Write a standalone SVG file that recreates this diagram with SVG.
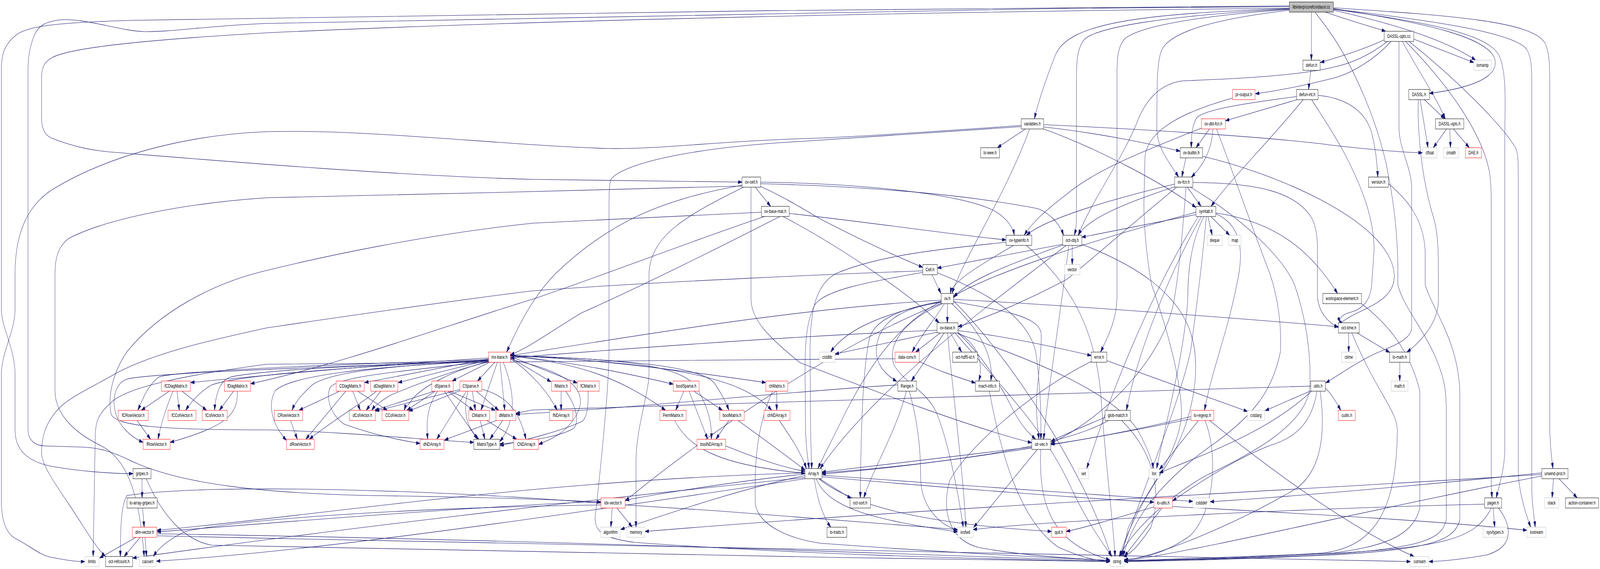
<svg xmlns="http://www.w3.org/2000/svg" width="6048" height="1456" viewBox="0 0 6048 1456" preserveAspectRatio="none">
<style>
svg{width:100vw;height:100vh}
rect{fill:#fff;stroke:#000;stroke-width:1}
.r rect{stroke:#ff0000}
.s rect{stroke:#bfbfbf}
.root rect{fill:#bfbfbf;stroke:#000}
text{font-family:"Liberation Sans",Arial,Helvetica,sans-serif;font-size:13px;text-anchor:middle;fill:#000}
#edges path{fill:none;stroke:#191970;stroke-width:1.1;marker-end:url(#a)}
</style>
<defs>
<marker id="a" viewBox="0 0 15 9" refX="15" refY="4.5" markerWidth="15" markerHeight="9" markerUnits="userSpaceOnUse" orient="auto"><path d="M0,0 L15,4.5 L0,9 z" fill="#191970" stroke="#191970"/></marker>
</defs>
<rect x="0" y="0" width="6048" height="1456" style="fill:#fff;stroke:none"/>
<g id="edges">
<path d="M4957,31 L4957,154"/>
<path d="M5010,31 C5090,50 5170,66 5238,80"/>
<path d="M5040,26 C5260,60 5460,100 5578,154"/>
<path d="M5040,22 C5400,60 5620,95 5650,150 C5670,200 5550,226 5403,239"/>
<path d="M5040,20 C5500,40 5790,55 5840,110 C5858,135 5858,170 5858,220 L5858,1080 C5858,1140 5866,1175 5870,1199"/>
<path d="M5040,23 C5450,55 5720,85 5770,125 C5788,145 5790,170 5790,210 L5790,1240 C5790,1290 5800,1325 5803,1349"/>
<path d="M5040,24 C5380,55 5620,85 5665,140 C5695,180 5690,260 5688,344 L5688,1150 C5688,1200 5665,1245 5656,1274"/>
<path d="M4874,22 C4300,35 4040,60 3990,140 C3955,200 3925,260 3910,304"/>
<path d="M4874,23 C4400,40 4150,70 4100,100 C4074,120 4069,150 4069,200 L4069,560 C4069,580 4065,592 4061,602"/>
<path d="M4874,24 C4500,42 4300,70 4250,100 C4226,120 4222,145 4222,200 L4222,760 C4222,820 4185,865 4160,901"/>
<path d="M4874,26 C4600,48 4420,80 4390,130 C4374,160 4373,200 4373,330 C4373,380 4425,420 4455,453"/>
<path d="M4874,15 C3500,20 1800,36 500,52 C200,58 100,68 60,90 C15,115 5,140 5,180 L5,790 C5,840 57,890 57,960 L57,1100 C57,1150 100,1180 193,1193 C300,1206 420,1212 503,1212"/>
<path d="M4874,17 C3500,22 2000,38 1008,60 C800,65 650,82 546,81 C450,79 320,45 225,51 C170,56 145,66 130,90 C112,120 106,145 106,180 L106,1100 C106,1125 130,1140 167,1141 L309,1144 C400,1146 450,1165 514,1185 C700,1240 1000,1262 1400,1268 C1800,1272 2100,1278 2272,1285"/>
<path d="M4874,21 C3500,30 2000,52 1008,84 C600,100 260,120 193,149 C165,160 157,175 157,200 L157,300 C157,330 170,345 193,353 C280,376 350,386 437,390 C800,410 1500,450 2016,459 C2400,463 2650,465 2805,466"/>
<path d="M4971,31 C5010,65 5030,85 5045,100 C5120,180 5200,300 5240,420 C5270,520 5284,600 5284,700 L5284,728 C5300,780 5380,840 5430,920 C5460,970 5467,1000 5467,1050 L5467,1330 C5450,1380 5380,1400 5040,1418 C4700,1430 4400,1434 4249,1436"/>
<path d="M4955,180 L4946,229"/>
<path d="M5232,102 C5150,128 5060,146 4991,160"/>
<path d="M5258,106 C5200,150 5110,188 5040,200 C4900,224 4800,235 4745,240"/>
<path d="M5245,106 C5160,150 5090,165 5040,172 C4900,195 4650,202 4469,207 C4380,215 4330,260 4302,306 C4250,400 4120,520 4076,602"/>
<path d="M5301,106 C5360,180 5430,250 5463,304"/>
<path d="M5344,100 L5571,160"/>
<path d="M5288,106 L5288,325 C5288,380 5336,430 5336,480 L5336,839 C5336,870 5250,890 5201,904 C5120,930 5060,960 5011,980"/>
<path d="M5313,106 C5450,200 5600,330 5630,440 C5637,470 5637,500 5637,550 L5637,1240 C5637,1255 5639,1265 5640,1274"/>
<path d="M5326,106 C5500,200 5680,320 5730,380 C5739,395 5739,420 5739,450 L5739,1200 C5739,1260 5770,1320 5786,1349"/>
<path d="M5384,255 L5461,304"/>
<path d="M5368,255 L5398,378"/>
<path d="M5361,255 C5358,330 5370,450 5420,560 C5437,600 5437,650 5437,700 L5437,770 C5437,820 5380,870 5318,901"/>
<path d="M5468,330 L5418,378"/>
<path d="M5480,330 L5483,378"/>
<path d="M5494,330 L5554,378"/>
<path d="M3945,319 C4300,330 4800,350 5040,372 C5200,384 5300,390 5377,391"/>
<path d="M3945,325 C4150,340 4350,368 4461,387"/>
<path d="M3945,330 C4150,380 4400,470 4521,531"/>
<path d="M3876,330 L3770,378"/>
<path d="M3892,330 C3800,500 3650,650 3598,751"/>
<path d="M3860,321 C3500,338 3200,352 3024,355 C2700,362 2500,382 2300,380 C1900,372 1400,330 1008,337 C700,345 400,400 193,487 C100,530 57,600 57,700 L57,790 C57,850 5,900 5,960 L5,1280 C5,1340 30,1370 64,1380 C120,1400 150,1420 193,1426 C240,1432 280,1437 321,1437"/>
<path d="M3860,324 C3500,342 3200,356 3024,362 C2600,378 2350,420 2308,460 C2302,480 2302,500 2302,550 L2302,900 C2302,1000 2262,1250 2250,1320 C2245,1365 2290,1378 2400,1388 C3000,1418 3700,1430 4196,1437"/>
<path d="M4903,255 C4800,275 4700,295 4632,309"/>
<path d="M4901,247 C4700,265 4560,280 4525,300 C4505,320 4503,350 4503,378"/>
<path d="M4926,255 C4800,360 4650,460 4578,528"/>
<path d="M4982,244 C5080,250 5160,280 5185,340 C5200,380 5206,420 5208,453"/>
<path d="M4958,255 C5000,300 5040,340 5080,390 C5150,480 5194,560 5194,640 L5185,728 C5180,770 5150,790 5110,798 C5070,805 5060,815 5066,826"/>
<path d="M4659,251 C4480,285 4340,330 4328,400 L4324,520 C4324,600 4340,680 4353,728 C4400,820 4460,950 4466,1050 C4470,1150 4330,1260 4265,1350 L4240,1424"/>
<path d="M4572,330 L4521,378"/>
<path d="M4585,330 C4580,390 4540,430 4503,453"/>
<path d="M4541,328 C4350,380 4150,430 4032,497 C3950,540 3900,570 3872,602"/>
<path d="M4598,330 C4640,400 4720,560 4800,700 C4830,760 4845,830 4840,900 C4810,1000 4740,1060 4600,1130 C4450,1200 4290,1300 4245,1424"/>
<path d="M4483,404 L4467,453"/>
<path d="M4546,400 C4800,440 5250,560 5270,700 C5280,780 5120,790 5059,832"/>
<path d="M4488,479 L4540,528"/>
<path d="M4440,478 C4250,520 4110,560 4076,602"/>
<path d="M4440,471 C4200,510 3950,560 3880,602"/>
<path d="M4448,479 C4300,560 4100,680 4032,715 C3850,780 3700,820 3621,836"/>
<path d="M4509,467 C4750,468 4900,490 4960,560 C4980,590 4980,620 4980,650 L4980,760 C4985,800 5020,825 5059,838"/>
<path d="M4483,479 C4470,600 4455,700 4440,760 C4410,900 4200,1060 3972,1135"/>
<path d="M4500,479 C4700,560 4850,660 4893,728 C4930,800 4960,900 4950,1000 C4920,1100 4700,1170 4550,1220 C4400,1280 4280,1360 4230,1424"/>
<path d="M4566,554 L4582,602"/>
<path d="M4577,554 L4648,602"/>
<path d="M4521,549 L4089,607"/>
<path d="M4541,554 C4420,700 4300,900 4258,1050"/>
<path d="M4596,547 C4690,575 4705,640 4675,728 C4640,850 4580,950 4553,1050"/>
<path d="M4551,554 C4500,620 4490,700 4490,760 C4480,900 4400,1100 4372,1199"/>
<path d="M4530,554 C4350,750 4200,1000 4108,1199"/>
<path d="M4560,554 C4540,700 4520,800 4500,900 C4450,1050 4320,1250 4235,1424"/>
<path d="M4596,545 C4850,570 4970,660 5056,751"/>
<path d="M4521,543 C4100,620 3750,700 3604,758"/>
<path d="M4053,628 L4053,677"/>
<path d="M4017,625 L3543,686"/>
<path d="M4017,627 C3800,680 3650,720 3604,762"/>
<path d="M4089,625 C4300,680 4450,750 4500,850 C4550,950 4500,1100 4400,1200 C4300,1300 4250,1380 4232,1424"/>
<path d="M4040,628 C4010,800 3960,1000 3945,1124"/>
<path d="M4030,628 C3700,800 3300,1000 3100,1199"/>
<path d="M3523,703 L3557,751"/>
<path d="M3543,698 C3700,740 3880,800 3915,900 C3935,1000 3936,1080 3934,1124"/>
<path d="M3488,697 C3300,720 3120,740 3080,780 C3050,820 3043,870 3043,950 L3045,1100 C3047,1150 3055,1180 3058,1199"/>
<path d="M3488,693 C3200,700 2500,720 2016,744 C1700,770 1300,810 1008,839 C800,870 600,900 450,951 C350,990 280,1010 230,1040 C170,1080 157,1120 157,1160 C160,1190 200,1230 260,1290 C320,1350 360,1400 399,1424"/>
<path d="M3831,628 C3700,680 3600,720 3592,751"/>
<path d="M3803,620 C3500,640 3300,659 3160,700 C3080,730 3062,800 3062,900 L3064,1100 C3066,1160 3068,1185 3068,1199"/>
<path d="M3880,628 C4000,700 4130,800 4160,1000 C4180,1200 4210,1350 4215,1424"/>
<path d="M2855,479 L2913,528"/>
<path d="M2875,466 C3300,470 3650,500 3760,540 C3810,560 3830,585 3834,602"/>
<path d="M2875,470 C3400,480 3700,505 3924,534 C3980,550 4010,580 4020,602"/>
<path d="M2875,477 C2950,500 3000,520 3100,560 C3300,630 3420,665 3488,684"/>
<path d="M2805,474 C2500,510 2300,570 2100,700 C2000,770 1950,850 1915,901"/>
<path d="M2810,479 C2600,550 2460,600 2453,700 L2453,960 C2453,1000 2404,1100 2404,1180 L2404,1349"/>
<path d="M2839,479 L2839,770 C2845,820 2900,860 3024,928 C3300,1000 3700,1100 3900,1133"/>
<path d="M2805,476 C2300,485 1500,500 1008,506 C700,520 400,560 260,610 C220,630 208,660 208,700 L208,1000 C208,1050 260,1100 380,1140 C500,1180 530,1300 545,1424"/>
<path d="M2983,546 C3300,570 3600,600 3803,614"/>
<path d="M2960,554 C3200,640 3450,760 3550,826"/>
<path d="M2948,554 C2700,640 2400,740 2200,800 C2100,840 2000,890 1929,908"/>
<path d="M2878,543 C2500,555 2200,565 2016,571 C1600,600 1200,660 1008,692 C800,725 600,800 480,900 C420,960 408,1020 420,1060 C440,1090 600,1100 1008,1100 C1300,1105 1600,1125 1791,1132"/>
<path d="M2890,554 C2600,620 2300,700 2016,765 C1700,830 1300,930 947,982"/>
<path d="M3581,777 L3581,826"/>
<path d="M3558,772 C3350,800 3200,840 3140,901"/>
<path d="M3570,777 C3530,820 3480,860 3448,901"/>
<path d="M3558,774 C3420,785 3330,820 3315,880 C3300,930 3350,960 3390,976"/>
<path d="M3562,777 C3420,820 3350,880 3380,935 C3420,980 3500,1000 3538,1053 C3580,1120 3620,1250 3641,1349"/>
<path d="M3558,771 C3400,790 3300,820 3285,870 C3265,940 3255,1050 3252,1274"/>
<path d="M3558,770 C3400,830 3300,920 3200,1050 C3150,1120 3110,1170 3092,1199"/>
<path d="M3604,772 C3800,795 3920,810 3935,850 C3940,900 3915,1000 3918,1050 C3920,1090 3925,1110 3927,1124"/>
<path d="M3598,777 C3680,830 3760,900 3745,975"/>
<path d="M3604,766 C4000,780 4600,810 5059,836"/>
<path d="M3558,768 C3000,790 2400,860 1929,910"/>
<path d="M3558,776 C3100,900 2600,1150 2363,1282"/>
<path d="M3604,770 C3800,900 4100,1200 4200,1424"/>
<path d="M3542,850 L3156,906"/>
<path d="M3554,852 L3461,901"/>
<path d="M3569,852 L3445,975"/>
<path d="M3593,852 L3635,901"/>
<path d="M3582,852 C3600,1000 3640,1200 3651,1349"/>
<path d="M3621,851 C3690,880 3720,920 3700,975"/>
<path d="M3621,852 C3700,900 3780,980 3830,1050 C3870,1100 3900,1115 3915,1124"/>
<path d="M3542,845 C3000,860 2400,890 1929,916"/>
<path d="M3621,846 C3800,860 4000,890 4125,910"/>
<path d="M3621,854 C3900,920 4200,1000 4300,1100 C4340,1150 4355,1180 4360,1199"/>
<path d="M3610,852 C3800,1000 3950,1100 4050,1250 C4120,1350 4180,1400 4203,1424"/>
<path d="M3475,925 C3550,950 3620,965 3687,980"/>
<path d="M3383,918 C2500,922 1500,928 1008,932 C700,960 480,990 420,1030 C370,1060 360,1080 360,1120 L352,1424"/>
<path d="M3394,985 C3000,1000 2400,1045 1950,1060"/>
<path d="M3426,1001 C3390,1100 3300,1200 3265,1274"/>
<path d="M3437,1001 C3470,1080 3480,1150 3480,1220 C3480,1290 3540,1340 3620,1357"/>
<path d="M3740,1001 C3780,1150 3850,1330 4000,1400 C4100,1430 4150,1435 4196,1436"/>
<path d="M3921,1150 L3680,1350"/>
<path d="M3900,1144 L3107,1208"/>
<path d="M3934,1150 C3925,1300 3980,1390 4196,1433"/>
<path d="M3098,1225 L3218,1276"/>
<path d="M3078,1225 C3090,1280 3110,1320 3140,1349"/>
<path d="M3085,1225 C3130,1300 3300,1330 3620,1361"/>
<path d="M3107,1216 C3600,1240 4200,1270 4509,1283"/>
<path d="M3107,1220 C3600,1250 4100,1275 4362,1285"/>
<path d="M3095,1225 C3250,1310 3600,1345 3975,1360"/>
<path d="M3043,1213 C2800,1230 2500,1262 2363,1280"/>
<path d="M3043,1217 C2800,1250 2500,1320 2346,1355"/>
<path d="M3043,1210 C2000,1230 1200,1320 593,1357"/>
<path d="M3043,1222 C2200,1280 1200,1360 501,1428"/>
<path d="M3043,1225 C2000,1330 1200,1410 591,1436"/>
<path d="M2272,1283 C1700,1300 1000,1340 593,1361"/>
<path d="M2314,1300 L2309,1349"/>
<path d="M2332,1300 L2390,1349"/>
<path d="M2363,1292 C2800,1310 3300,1335 3620,1355"/>
<path d="M2272,1288 C1700,1255 800,1235 480,1268 C458,1290 455,1350 455,1424"/>
<path d="M2272,1292 C1500,1300 900,1330 700,1360 C640,1380 600,1400 580,1424"/>
<path d="M514,1375 L376,1428"/>
<path d="M530,1375 L469,1424"/>
<path d="M548,1375 L554,1424"/>
<path d="M593,1366 C2000,1380 3500,1420 4196,1436"/>
<path d="M593,1371 C2500,1400 4500,1430 5332,1437"/>
<path d="M537,1225 L537,1274"/>
<path d="M539,1300 L545,1349"/>
<path d="M553,1225 C600,1300 680,1380 800,1395 C1500,1410 3000,1425 4196,1437"/>
<path d="M4184,923 L4716,1053"/>
<path d="M4125,925 C3900,1000 3650,1150 3590,1230 C3560,1300 3580,1380 3700,1401 C3850,1420 4050,1430 4196,1434"/>
<path d="M4240,1076 C4350,1150 4400,1250 4350,1350 C4300,1400 4270,1420 4245,1424"/>
<path d="M4177,1068 C4100,1090 4010,1115 3972,1130"/>
<path d="M4190,1076 C4000,1150 3500,1190 3107,1210"/>
<path d="M4530,1076 L4382,1202"/>
<path d="M4502,1072 C4300,1100 3700,1180 3107,1213"/>
<path d="M4502,1066 C4300,1100 4100,1125 3972,1137"/>
<path d="M4555,1076 C4600,1150 4600,1300 4500,1370 C4400,1420 4300,1430 4249,1432"/>
<path d="M4572,1076 C4800,1200 5100,1350 5345,1424"/>
<path d="M4955,1000 L4782,1051"/>
<path d="M4958,1001 C4800,1100 4600,1150 4382,1210"/>
<path d="M4955,988 C4000,1000 3000,1030 2016,1049 C1990,1051 1970,1055 1950,1058"/>
<path d="M4978,1001 C4960,1080 4900,1120 4800,1140 C4650,1180 4500,1250 4432,1282"/>
<path d="M4990,1001 C5010,1100 5000,1200 4900,1250 C4700,1330 4400,1420 4249,1434"/>
<path d="M5010,993 C5035,1010 5052,1030 5068,1050"/>
<path d="M4392,1300 L4250,1424"/>
<path d="M4362,1297 C4200,1330 4100,1350 4030,1360"/>
<path d="M4432,1296 C4800,1310 5400,1330 5772,1357"/>
<path d="M5828,1210 C5400,1240 4900,1270 4574,1284"/>
<path d="M5828,1214 C5000,1250 3500,1300 2438,1360"/>
<path d="M5872,1225 L5867,1274"/>
<path d="M5893,1225 L5962,1274"/>
<path d="M5828,1218 C5200,1300 4600,1400 4249,1436"/>
<path d="M5644,1300 L5650,1349"/>
<path d="M5664,1300 C5720,1350 5720,1400 5620,1420 C5520,1432 5450,1436 5401,1437"/>
<path d="M5637,1300 C5580,1380 5450,1400 5040,1416 C4700,1425 4400,1432 4249,1435"/>
<path d="M5612,1290 C5000,1300 4000,1330 3678,1355"/>
<path d="M5146,777 C5250,830 5330,900 5367,1000 L5367,1300 C5340,1380 5200,1400 5040,1415 C4700,1428 4400,1433 4249,1435"/>
<path d="M5098,852 L5098,901"/>
<path d="M5130,852 L5253,902"/>
<path d="M5110,852 C5200,1000 5280,1050 5282,1100 C5280,1300 5200,1400 5000,1415 C4700,1428 4400,1434 4249,1436"/>
<path d="M5291,927 L5291,975"/>
<path d="M5248,470 C5320,510 5380,560 5387,640 L5387,728 C5420,800 5510,870 5518,1000 L5518,1330 C5500,1385 5400,1405 5040,1420 C4700,1430 4400,1436 4249,1437"/>
<path d="M640,1001 L534,1050"/>
<path d="M654,1001 C630,1040 605,1090 598,1124"/>
<path d="M669,1001 L678,1050"/>
<path d="M688,1001 L781,1050"/>
<path d="M883,1001 L829,1050"/>
<path d="M897,1001 C900,1060 860,1090 643,1132"/>
<path d="M518,1076 L569,1124"/>
<path d="M1847,916 C1500,930 1000,960 720,979"/>
<path d="M1847,920 C1200,934 650,950 600,965 C560,985 540,1020 521,1050"/>
<path d="M1847,921 C1300,940 900,960 800,985 C760,1000 720,1030 702,1050"/>
<path d="M1847,922 C1400,935 1000,945 870,965 C830,975 815,1010 811,1050"/>
<path d="M1847,923 C1300,938 600,952 480,970 C440,980 428,1010 432,1040 C440,1090 500,1120 541,1132"/>
<path d="M1847,924 C1400,938 1100,960 1040,1000 C1015,1030 1020,1080 1083,1127"/>
<path d="M1847,922 C1500,935 1250,950 1180,985 C1140,1010 1115,1030 1104,1050"/>
<path d="M1847,918 L1378,979"/>
<path d="M1847,921 L1505,979"/>
<path d="M1847,926 C1700,950 1550,990 1480,1010 C1440,1025 1415,1040 1405,1050"/>
<path d="M1847,925 C1700,950 1600,990 1560,1020 C1545,1035 1530,1045 1528,1050"/>
<path d="M1850,927 L1709,975"/>
<path d="M1870,927 L1805,975"/>
<path d="M1880,927 L1818,1050"/>
<path d="M1890,927 L1908,1050"/>
<path d="M1902,927 C1940,990 1960,1070 1889,1130"/>
<path d="M1847,925 C1500,950 1280,965 1250,990 C1230,1010 1245,1060 1300,1085 C1400,1110 1500,1125 1588,1135"/>
<path d="M1929,915 L2083,977"/>
<path d="M1929,912 L2182,980"/>
<path d="M1929,917 C2000,950 2070,1000 2106,1050"/>
<path d="M1929,910 C2200,930 2400,960 2545,983"/>
<path d="M1929,911 C2200,930 2350,970 2516,1050"/>
<path d="M1929,909 C2300,920 2700,960 2895,979"/>
<path d="M1929,910 C2400,920 2650,940 2700,980 C2730,1010 2745,1030 2755,1050"/>
<path d="M1929,910 C2400,918 2600,940 2640,1000 C2690,1060 2690,1100 2689,1124"/>
<path d="M1929,910 C2500,930 2800,960 2917,1050"/>
<path d="M1929,920 C2150,950 2230,1000 2180,1060 C2140,1110 2080,1125 2036,1137"/>
<path d="M2121,1001 L2121,1050"/>
<path d="M2138,1001 C2180,1040 2190,1080 2170,1095 C2130,1115 2000,1130 1889,1136"/>
<path d="M2223,1001 C2225,1050 2215,1075 2195,1080 C2130,1100 2000,1125 1889,1140"/>
<path d="M2585,1001 L2554,1050"/>
<path d="M2605,1001 L2675,1124"/>
<path d="M2623,1001 L2731,1050"/>
<path d="M2755,1076 L2706,1124"/>
<path d="M2936,1001 L2936,1050"/>
<path d="M2920,1001 C2855,1100 2852,1200 2855,1290 C2870,1350 3000,1380 3100,1390 C3500,1410 3900,1425 4196,1434"/>
<path d="M2946,1076 C2990,1120 3030,1160 3048,1199"/>
<path d="M2743,1141 C2850,1170 2950,1195 3043,1206"/>
<path d="M2550,1076 C2600,1140 2700,1190 3043,1211"/>
<path d="M2790,1076 C2900,1130 2980,1170 3043,1203"/>
<path d="M1284,1001 L1130,1050"/>
<path d="M1307,1001 L1156,1124"/>
<path d="M1333,1001 L1362,1050"/>
<path d="M1352,1001 L1464,1050"/>
<path d="M1439,1001 L1384,1050"/>
<path d="M1423,1001 C1350,1040 1250,1080 1169,1124"/>
<path d="M1098,1076 L1124,1124"/>
<path d="M1641,1001 L1416,1050"/>
<path d="M1645,1001 L1538,1050"/>
<path d="M1654,1001 C1615,1040 1610,1080 1617,1124"/>
<path d="M1680,1001 L1805,1124"/>
<path d="M1693,1001 L1789,1050"/>
<path d="M1699,1001 L1872,1050"/>
<path d="M1738,997 L1419,1052"/>
<path d="M1738,1000 L1545,1052"/>
<path d="M1763,1001 L1651,1124"/>
<path d="M1769,1001 C1750,1050 1760,1090 1810,1124"/>
<path d="M1785,1001 L1797,1050"/>
<path d="M1801,1001 L1885,1050"/>
<path d="M1821,996 C1900,1010 1960,1040 1988,1124"/>
<path d="M1815,1076 L1833,1124"/>
<path d="M1840,1076 L1953,1124"/>
<path d="M1900,1076 L1852,1124"/>
<path d="M1876,1076 L1680,1126"/>
</g>
<g id="n-dassl-cc" class="root"><rect x="4874" y="5" width="166" height="26"/><text x="4957" y="22.5">libinterp/corefcn/dassl.cc</text></g>
<g id="n-DASSL-opts-cc"><rect x="5232" y="80" width="112" height="26"/><text x="5288" y="97.5">DASSL-opts.cc</text></g>
<g id="n-defun-h"><rect x="4925" y="154" width="65" height="26"/><text x="4957.5" y="171.5">defun.h</text></g>
<g id="n-iomanip" class="s"><rect x="5571" y="154" width="66" height="26"/><text x="5604" y="171.5">iomanip</text></g>
<g id="n-pr-output-h" class="r"><rect x="4659" y="229" width="85" height="26"/><text x="4701.5" y="246.5">pr-output.h</text></g>
<g id="n-defun-int-h"><rect x="4901" y="229" width="81" height="26"/><text x="4941.5" y="246.5">defun-int.h</text></g>
<g id="n-DASSL-h"><rect x="5325" y="229" width="78" height="26"/><text x="5364" y="246.5">DASSL.h</text></g>
<g id="n-variables-h"><rect x="3860" y="304" width="85" height="26"/><text x="3902.5" y="321.5">variables.h</text></g>
<g id="n-ov-dld-fcn-h" class="r"><rect x="4541" y="304" width="91" height="26"/><text x="4586.5" y="321.5">ov-dld-fcn.h</text></g>
<g id="n-DASSL-opts-h"><rect x="5426" y="304" width="107" height="26"/><text x="5479.5" y="321.5">DASSL-opts.h</text></g>
<g id="n-lo-ieee-h"><rect x="3707" y="378" width="71" height="26"/><text x="3742.5" y="395.5">lo-ieee.h</text></g>
<g id="n-ov-builtin-h"><rect x="4461" y="378" width="85" height="26"/><text x="4503.5" y="395.5">ov-builtin.h</text></g>
<g id="n-cfloat" class="s"><rect x="5377" y="378" width="55" height="26"/><text x="5404.5" y="395.5">cfloat</text></g>
<g id="n-cmath" class="s"><rect x="5457" y="378" width="57" height="26"/><text x="5485.5" y="395.5">cmath</text></g>
<g id="n-DAE-h" class="r"><rect x="5539" y="378" width="61" height="26"/><text x="5569.5" y="395.5">DAE.h</text></g>
<g id="n-ov-cell-h"><rect x="2805" y="453" width="70" height="26"/><text x="2840" y="470.5">ov-cell.h</text></g>
<g id="n-ov-fcn-h"><rect x="4440" y="453" width="69" height="26"/><text x="4474.5" y="470.5">ov-fcn.h</text></g>
<g id="n-version-h"><rect x="5173" y="453" width="75" height="26"/><text x="5210.5" y="470.5">version.h</text></g>
<g id="n-ov-base-mat-h"><rect x="2878" y="528" width="105" height="26"/><text x="2930.5" y="545.5">ov-base-mat.h</text></g>
<g id="n-symtab-h"><rect x="4521" y="528" width="75" height="26"/><text x="4558.5" y="545.5">symtab.h</text></g>
<g id="n-ov-typeinfo-h"><rect x="3803" y="602" width="97" height="26"/><text x="3851.5" y="619.5">ov-typeinfo.h</text></g>
<g id="n-oct-obj-h"><rect x="4017" y="602" width="72" height="26"/><text x="4053" y="619.5">oct-obj.h</text></g>
<g id="n-deque" class="s"><rect x="4563" y="602" width="57" height="26"/><text x="4591.5" y="619.5">deque</text></g>
<g id="n-map" class="s"><rect x="4645" y="602" width="46" height="26"/><text x="4668" y="619.5">map</text></g>
<g id="n-Cell-h"><rect x="3488" y="677" width="55" height="26"/><text x="3515.5" y="694.5">Cell.h</text></g>
<g id="n-vector" class="s"><rect x="4024" y="677" width="58" height="26"/><text x="4053" y="694.5">vector</text></g>
<g id="n-ov-h"><rect x="3558" y="751" width="46" height="26"/><text x="3581" y="768.5">ov.h</text></g>
<g id="n-workspace-element-h"><rect x="5000" y="751" width="146" height="26"/><text x="5073" y="768.5">workspace-element.h</text></g>
<g id="n-ov-base-h"><rect x="3542" y="826" width="79" height="26"/><text x="3581.5" y="843.5">ov-base.h</text></g>
<g id="n-oct-time-h"><rect x="5059" y="826" width="79" height="26"/><text x="5098.5" y="843.5">oct-time.h</text></g>
<g id="n-mx-base-h" class="r"><rect x="1847" y="901" width="82" height="26"/><text x="1888" y="918.5">mx-base.h</text></g>
<g id="n-cstdlib" class="s"><rect x="3097" y="901" width="59" height="26"/><text x="3126.5" y="918.5">cstdlib</text></g>
<g id="n-data-conv-h" class="r"><rect x="3383" y="901" width="92" height="26"/><text x="3429" y="918.5">data-conv.h</text></g>
<g id="n-oct-hdf5-id-h"><rect x="3601" y="901" width="94" height="26"/><text x="3648" y="918.5">oct-hdf5-id.h</text></g>
<g id="n-error-h"><rect x="4125" y="901" width="59" height="26"/><text x="4154.5" y="918.5">error.h</text></g>
<g id="n-ctime" class="s"><rect x="5071" y="901" width="55" height="26"/><text x="5098.5" y="918.5">ctime</text></g>
<g id="n-lo-math-h"><rect x="5253" y="901" width="76" height="26"/><text x="5291" y="918.5">lo-math.h</text></g>
<g id="n-fCDiagMatrix-h" class="r"><rect x="610" y="975" width="110" height="26"/><text x="665" y="992.5">fCDiagMatrix.h</text></g>
<g id="n-fDiagMatrix-h" class="r"><rect x="848" y="975" width="99" height="26"/><text x="897.5" y="992.5">fDiagMatrix.h</text></g>
<g id="n-CDiagMatrix-h" class="r"><rect x="1271" y="975" width="106" height="26"/><text x="1324" y="992.5">CDiagMatrix.h</text></g>
<g id="n-dDiagMatrix-h" class="r"><rect x="1401" y="975" width="103" height="26"/><text x="1452.5" y="992.5">dDiagMatrix.h</text></g>
<g id="n-dSparse-h" class="r"><rect x="1632" y="975" width="81" height="26"/><text x="1672.5" y="992.5">dSparse.h</text></g>
<g id="n-CSparse-h" class="r"><rect x="1738" y="975" width="83" height="26"/><text x="1779.5" y="992.5">CSparse.h</text></g>
<g id="n-fMatrix-h" class="r"><rect x="2085" y="975" width="72" height="26"/><text x="2121" y="992.5">fMatrix.h</text></g>
<g id="n-fCMatrix-h" class="r"><rect x="2182" y="975" width="83" height="26"/><text x="2223.5" y="992.5">fCMatrix.h</text></g>
<g id="n-boolSparse-h" class="r"><rect x="2545" y="975" width="98" height="26"/><text x="2594" y="992.5">boolSparse.h</text></g>
<g id="n-chMatrix-h" class="r"><rect x="2895" y="975" width="83" height="26"/><text x="2936.5" y="992.5">chMatrix.h</text></g>
<g id="n-Range-h"><rect x="3394" y="975" width="70" height="26"/><text x="3429" y="992.5">Range.h</text></g>
<g id="n-mach-info-h"><rect x="3687" y="975" width="91" height="26"/><text x="3732.5" y="992.5">mach-info.h</text></g>
<g id="n-utils-h"><rect x="4955" y="975" width="55" height="26"/><text x="4982.5" y="992.5">utils.h</text></g>
<g id="n-math-h" class="s"><rect x="5259" y="975" width="63" height="26"/><text x="5290.5" y="992.5">math.h</text></g>
<g id="n-fCRowVector-h" class="r"><rect x="447" y="1050" width="113" height="26"/><text x="503.5" y="1067.5">fCRowVector.h</text></g>
<g id="n-fCColVector-h" class="r"><rect x="635" y="1050" width="106" height="26"/><text x="688" y="1067.5">fCColVector.h</text></g>
<g id="n-fColVector-h" class="r"><rect x="764" y="1050" width="95" height="26"/><text x="811.5" y="1067.5">fColVector.h</text></g>
<g id="n-CRowVector-h" class="r"><rect x="1037" y="1050" width="107" height="26"/><text x="1090.5" y="1067.5">CRowVector.h</text></g>
<g id="n-dColVector-h" class="r"><rect x="1321" y="1050" width="98" height="26"/><text x="1370" y="1067.5">dColVector.h</text></g>
<g id="n-CColVector-h" class="r"><rect x="1444" y="1050" width="101" height="26"/><text x="1494.5" y="1067.5">CColVector.h</text></g>
<g id="n-CMatrix-h" class="r"><rect x="1772" y="1050" width="79" height="26"/><text x="1811.5" y="1067.5">CMatrix.h</text></g>
<g id="n-dMatrix-h" class="r"><rect x="1875" y="1050" width="75" height="26"/><text x="1912.5" y="1067.5">dMatrix.h</text></g>
<g id="n-fNDArray-h" class="r"><rect x="2077" y="1050" width="88" height="26"/><text x="2121" y="1067.5">fNDArray.h</text></g>
<g id="n-PermMatrix-h" class="r"><rect x="2494" y="1050" width="100" height="26"/><text x="2544" y="1067.5">PermMatrix.h</text></g>
<g id="n-boolMatrix-h" class="r"><rect x="2721" y="1050" width="92" height="26"/><text x="2767" y="1067.5">boolMatrix.h</text></g>
<g id="n-chNDArray-h" class="r"><rect x="2888" y="1050" width="98" height="26"/><text x="2937" y="1067.5">chNDArray.h</text></g>
<g id="n-glob-match-h"><rect x="4177" y="1050" width="96" height="26"/><text x="4225" y="1067.5">glob-match.h</text></g>
<g id="n-lo-regexp-h" class="r"><rect x="4502" y="1050" width="86" height="26"/><text x="4545" y="1067.5">lo-regexp.h</text></g>
<g id="n-cstdarg" class="s"><rect x="4715" y="1050" width="65" height="26"/><text x="4747.5" y="1067.5">cstdarg</text></g>
<g id="n-cutils-h" class="r"><rect x="5059" y="1050" width="64" height="26"/><text x="5091" y="1067.5">cutils.h</text></g>
<g id="n-fRowVector-h" class="r"><rect x="541" y="1124" width="102" height="26"/><text x="592" y="1141.5">fRowVector.h</text></g>
<g id="n-dRowVector-h" class="r"><rect x="1083" y="1124" width="105" height="26"/><text x="1135.5" y="1141.5">dRowVector.h</text></g>
<g id="n-dNDArray-h" class="r"><rect x="1588" y="1124" width="90" height="26"/><text x="1633" y="1141.5">dNDArray.h</text></g>
<g id="n-MatrixType-h"><rect x="1791" y="1124" width="98" height="26"/><text x="1840" y="1141.5">MatrixType.h</text></g>
<g id="n-CNDArray-h" class="r"><rect x="1942" y="1124" width="94" height="26"/><text x="1989" y="1141.5">CNDArray.h</text></g>
<g id="n-boolNDArray-h" class="r"><rect x="2635" y="1124" width="108" height="26"/><text x="2689" y="1141.5">boolNDArray.h</text></g>
<g id="n-str-vec-h"><rect x="3900" y="1124" width="72" height="26"/><text x="3936" y="1141.5">str-vec.h</text></g>
<g id="n-gripes-h"><rect x="503" y="1199" width="68" height="26"/><text x="537" y="1216.5">gripes.h</text></g>
<g id="n-Array-h"><rect x="3043" y="1199" width="64" height="26"/><text x="3075" y="1216.5">Array.h</text></g>
<g id="n-set" class="s"><rect x="4076" y="1199" width="40" height="26"/><text x="4096" y="1216.5">set</text></g>
<g id="n-list" class="s"><rect x="4343" y="1199" width="39" height="26"/><text x="4362.5" y="1216.5">list</text></g>
<g id="n-unwind-prot-h"><rect x="5828" y="1199" width="99" height="26"/><text x="5877.5" y="1216.5">unwind-prot.h</text></g>
<g id="n-lo-array-gripes-h"><rect x="480" y="1274" width="114" height="26"/><text x="537" y="1291.5">lo-array-gripes.h</text></g>
<g id="n-idx-vector-h" class="r"><rect x="2272" y="1274" width="91" height="26"/><text x="2317.5" y="1291.5">idx-vector.h</text></g>
<g id="n-oct-sort-h"><rect x="3213" y="1274" width="77" height="26"/><text x="3251.5" y="1291.5">oct-sort.h</text></g>
<g id="n-lo-utils-h" class="r"><rect x="4362" y="1274" width="70" height="26"/><text x="4397" y="1291.5">lo-utils.h</text></g>
<g id="n-cstddef" class="s"><rect x="4509" y="1274" width="65" height="26"/><text x="4541.5" y="1291.5">cstddef</text></g>
<g id="n-pager-h"><rect x="5612" y="1274" width="64" height="26"/><text x="5644" y="1291.5">pager.h</text></g>
<g id="n-stack" class="s"><rect x="5838" y="1274" width="54" height="26"/><text x="5865" y="1291.5">stack</text></g>
<g id="n-action-container-h"><rect x="5917" y="1274" width="126" height="26"/><text x="5980" y="1291.5">action-container.h</text></g>
<g id="n-dim-vector-h" class="r"><rect x="500" y="1349" width="93" height="26"/><text x="546.5" y="1366.5">dim-vector.h</text></g>
<g id="n-algorithm" class="s"><rect x="2271" y="1349" width="74" height="26"/><text x="2308" y="1366.5">algorithm</text></g>
<g id="n-memory" class="s"><rect x="2370" y="1349" width="68" height="26"/><text x="2404" y="1366.5">memory</text></g>
<g id="n-lo-traits-h"><rect x="3126" y="1349" width="75" height="26"/><text x="3163.5" y="1366.5">lo-traits.h</text></g>
<g id="n-iosfwd" class="s"><rect x="3620" y="1349" width="58" height="26"/><text x="3649" y="1366.5">iosfwd</text></g>
<g id="n-quit-h" class="r"><rect x="3975" y="1349" width="55" height="26"/><text x="4002.5" y="1366.5">quit.h</text></g>
<g id="n-sys-types-h" class="s"><rect x="5606" y="1349" width="91" height="26"/><text x="5651.5" y="1366.5">sys/types.h</text></g>
<g id="n-iostream" class="s"><rect x="5772" y="1349" width="72" height="26"/><text x="5808" y="1366.5">iostream</text></g>
<g id="n-limits" class="s"><rect x="321" y="1424" width="53" height="26"/><text x="347.5" y="1441.5">limits</text></g>
<g id="n-oct-refcount-h"><rect x="399" y="1424" width="102" height="26"/><text x="450" y="1441.5">oct-refcount.h</text></g>
<g id="n-cassert" class="s"><rect x="526" y="1424" width="65" height="26"/><text x="558.5" y="1441.5">cassert</text></g>
<g id="n-string" class="s"><rect x="4196" y="1424" width="53" height="26"/><text x="4222.5" y="1441.5">string</text></g>
<g id="n-sstream" class="s"><rect x="5332" y="1424" width="69" height="26"/><text x="5366.5" y="1441.5">sstream</text></g>
</svg>
